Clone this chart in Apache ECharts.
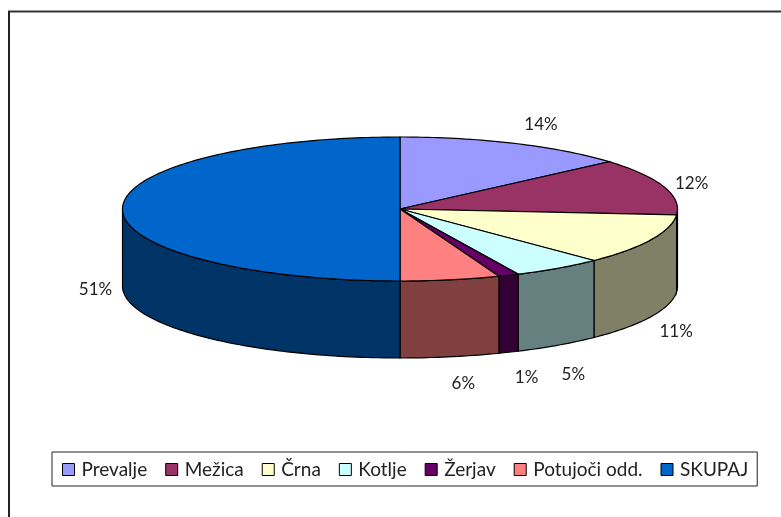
<!DOCTYPE html>
<html><head><meta charset="utf-8">
<style>html,body{margin:0;padding:0;background:#fff}#c{width:781px;height:517px}</style>
<script src="https://cdn.jsdelivr.net/npm/echarts@6/dist/echarts.min.js"></script>
</head><body><div id="c"></div>
<script>
const categories = ['Prevalje','Mežica','Črna','Kotlje','Žerjav','Potujoči odd.','SKUPAJ'];
const shares = [13.6, 12.7, 11.38, 5.32, 1.2, 5.8, 50.0];
const shareLabels = ['14%','12%','11%','5%','1%','6%','51%'];
const topColors = ['#9999FF','#993366','#FFFFCC','#CCFFFF','#660066','#FF8080','#0066CC'];
const wallColors = ['#4D4D80','#4D1A33','#808066','#668080','#330033','#804040','#003366'];
// label displacement from the rim point at each slice's mid angle
const labelNudge = [[26,-19],[28,-3],[25,92],[15,106],[18,102],[13,104],[-27,81]];

const CX=400, CY=209, RX=277.5, RY=72, DEPTH=77;
const total = shares.reduce((a,b)=>a+b,0);
const rim = (a,d)=>[CX+RX*Math.sin(a), CY-RY*Math.cos(a)+(d||0)];
function arc(a0,a1,d){
  const n=Math.max(2,Math.ceil(Math.abs(a1-a0)/0.02)), p=[];
  for(let i=0;i<=n;i++) p.push(rim(a0+(a1-a0)*i/n,d));
  return p;
}
function makeSeries(i){
  const before = shares.slice(0,i).reduce((a,b)=>a+b,0);
  return {
    type:'custom', name:categories[i], coordinateSystem:'none',
    itemStyle:{color:topColors[i]},
    z: 2,
    data:[[before, shares[i]]],
    renderItem(params,api){
      const a0=api.value(0)/total*2*Math.PI, a1=(api.value(0)+api.value(1))/total*2*Math.PI;
      const kids=[];
      const w0=Math.max(a0,Math.PI/2), w1=Math.min(a1,Math.PI*1.5);
      if(w1>w0){
        const upper=arc(w0,w1,0), lower=arc(w1,w0,DEPTH);
        kids.push({type:'polygon',shape:{points:upper.concat(lower)},
          style:{fill:wallColors[i],stroke:'#000',lineWidth:1.2}});
      }
      kids.push({type:'polygon',shape:{points:[[CX,CY]].concat(arc(a0,a1,0))},
        style:{fill:topColors[i],stroke:'#000',lineWidth:1.2}});
      const m=rim((a0+a1)/2,0), nudge=labelNudge[i];
      kids.push({type:'text',x:m[0]+nudge[0],y:m[1]+nudge[1],
        style:{text:shareLabels[i],fill:'#222',font:'17px Lato',align:'center',verticalAlign:'middle'}});
      return {type:'group',children:kids};
    }
  };
}
const chart = echarts.init(document.getElementById('c'),null,{renderer:'canvas'});
chart.setOption({
  animation:false,
  backgroundColor:'#fff',
  graphic:[
    {type:'line',z:0,shape:{x1:8,y1:11.5,x2:781,y2:11.5},style:{stroke:'#333',lineWidth:2}},
    {type:'line',z:0,shape:{x1:9,y1:11,x2:9,y2:517},style:{stroke:'#222',lineWidth:2}}
  ],
  legend:{
    data:categories, left:52, top:452, orient:'horizontal',
    padding:[8,9,7,10], itemGap:18, itemWidth:12, itemHeight:12,
    backgroundColor:'#fff', borderColor:'#222', borderWidth:1,
    icon:'rect', selectedMode:false,
    itemStyle:{borderColor:'#000',borderWidth:1},
    textStyle:{fontFamily:'Lato',fontSize:19,color:'#222',padding:[0,0,0,2]}
  },
  series:categories.map((_,i)=>makeSeries(i))
});
</script></body></html>
